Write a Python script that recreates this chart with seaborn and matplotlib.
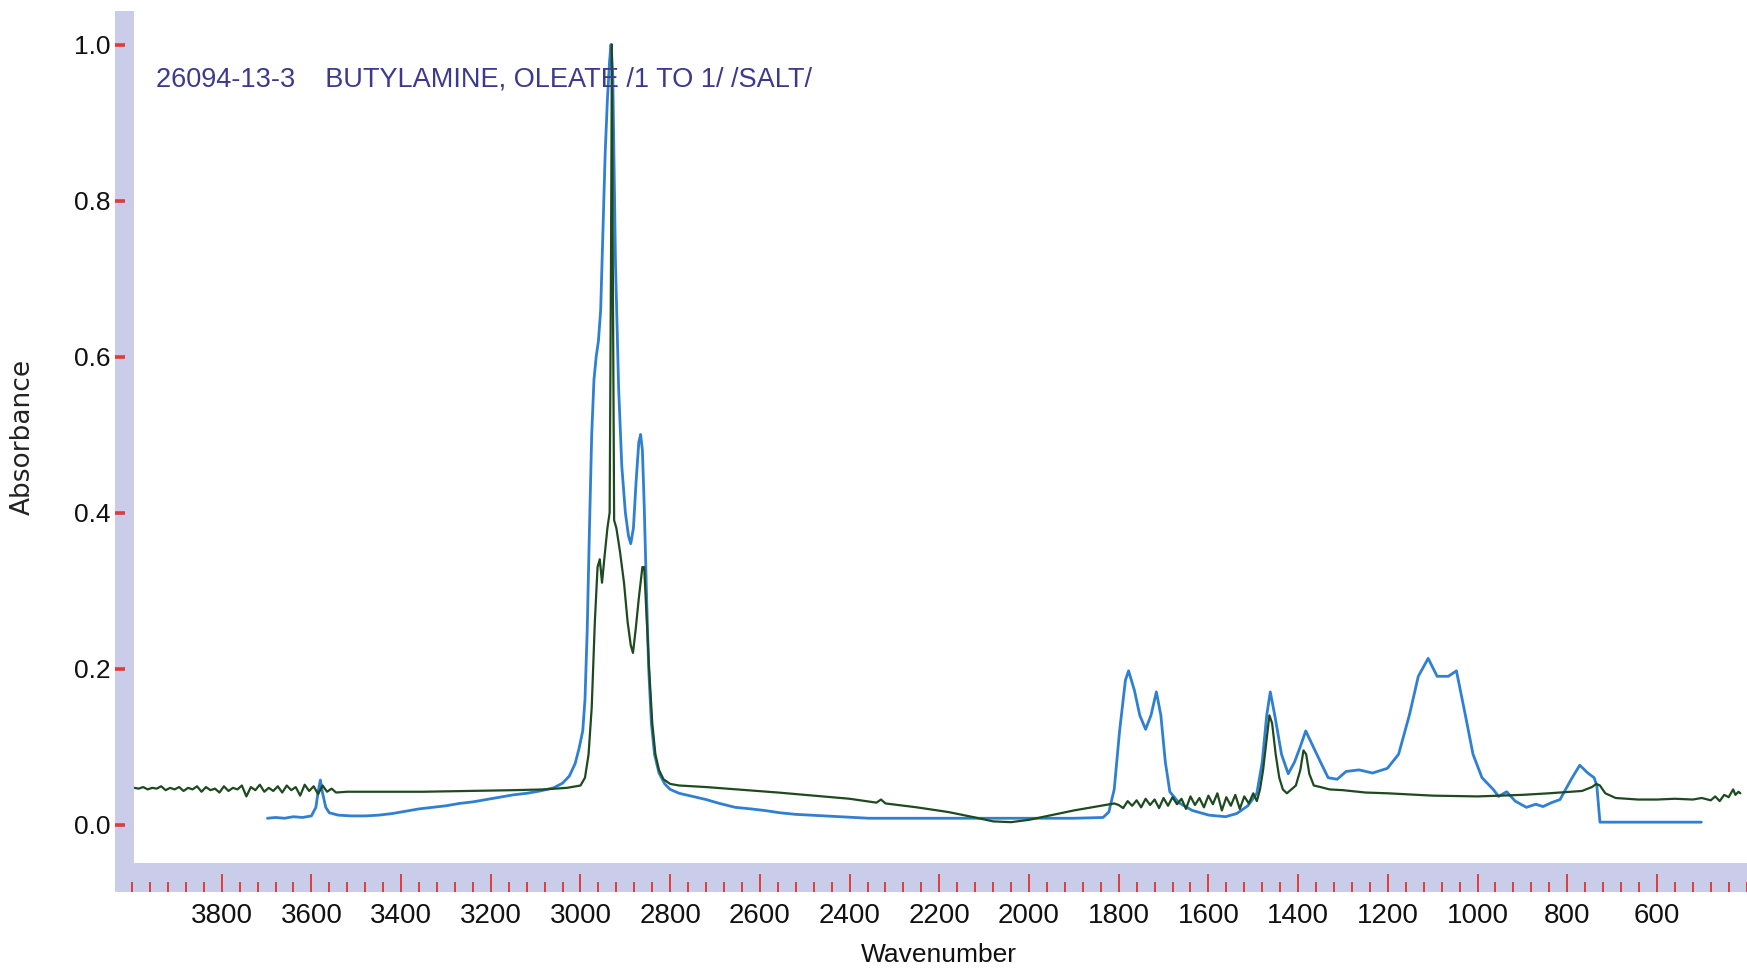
import matplotlib
matplotlib.use("Agg")
import matplotlib.pyplot as plt
from matplotlib.ticker import MultipleLocator
import pandas as pd
import seaborn as sns

# Spectrum 1 (blue) - wavenumber (cm-1) and absorbance
blue_wn = [
    3698, 3680, 3660, 3640, 3620, 3600, 3590, 3585, 3580, 3575,
    3568, 3560, 3540, 3510, 3480, 3450, 3420, 3390, 3360, 3330,
    3300, 3270, 3240, 3210, 3180, 3150, 3120, 3090, 3060, 3040,
    3025, 3012, 3003, 2995, 2990, 2985, 2980, 2975, 2970, 2965,
    2960, 2955, 2950, 2945, 2940, 2935, 2932, 2928, 2922, 2915,
    2908, 2900, 2893, 2888, 2882, 2876, 2870, 2866, 2862, 2858,
    2853, 2848, 2842, 2835, 2825, 2812, 2800, 2780, 2750, 2720,
    2690, 2655, 2620, 2590, 2555, 2520, 2490, 2456, 2420, 2390,
    2357, 2300, 2200, 2100, 2000, 1900, 1835, 1822, 1810, 1798,
    1785, 1778, 1765, 1753, 1740, 1728, 1716, 1706, 1696, 1686,
    1666, 1636, 1599, 1562, 1537, 1512, 1492, 1480, 1470, 1462,
    1452, 1437, 1422, 1408, 1395, 1383, 1368, 1350, 1333, 1313,
    1293, 1264, 1234, 1201, 1176, 1152, 1132, 1110, 1090, 1065,
    1047, 1027, 1010, 990, 965, 953, 935, 916, 891, 870,
    854, 835, 816, 791, 772, 754, 740, 734, 727, 600,
    501,
]
blue_abs = [
    0.008, 0.009, 0.008, 0.010, 0.009, 0.011, 0.022, 0.042, 0.057, 0.040,
    0.022, 0.015, 0.012, 0.011, 0.011, 0.012, 0.014, 0.017, 0.020, 0.022,
    0.024, 0.027, 0.029, 0.032, 0.035, 0.038, 0.040, 0.043, 0.047, 0.053,
    0.062, 0.078, 0.098, 0.12, 0.16, 0.25, 0.38, 0.50, 0.57, 0.60,
    0.62, 0.66, 0.76, 0.86, 0.93, 0.98, 1.0, 0.96, 0.72, 0.56,
    0.46, 0.40, 0.37, 0.36, 0.38, 0.44, 0.49, 0.50, 0.48, 0.41,
    0.30, 0.20, 0.13, 0.09, 0.066, 0.052, 0.045, 0.040, 0.036, 0.032,
    0.027, 0.022, 0.020, 0.018, 0.015, 0.013, 0.012, 0.011, 0.010, 0.009,
    0.008, 0.008, 0.008, 0.008, 0.008, 0.008, 0.009, 0.016, 0.045, 0.12,
    0.185, 0.197, 0.172, 0.14, 0.122, 0.14, 0.17, 0.14, 0.08, 0.042,
    0.028, 0.018, 0.012, 0.010, 0.014, 0.024, 0.04, 0.08, 0.14, 0.17,
    0.14, 0.09, 0.065, 0.08, 0.10, 0.12, 0.102, 0.08, 0.06, 0.058,
    0.068, 0.07, 0.066, 0.072, 0.09, 0.14, 0.19, 0.213, 0.19, 0.19,
    0.197, 0.14, 0.09, 0.06, 0.045, 0.036, 0.042, 0.03, 0.022, 0.026,
    0.023, 0.028, 0.032, 0.058, 0.076, 0.066, 0.06, 0.05, 0.003, 0.003,
    0.003,
]

# Spectrum 2 (dark green)
green_wn = [
    3995, 3985, 3975, 3965, 3955, 3945, 3935, 3925, 3915, 3905,
    3895, 3885, 3875, 3865, 3855, 3845, 3835, 3825, 3815, 3805,
    3795, 3785, 3775, 3765, 3755, 3745, 3735, 3725, 3715, 3705,
    3695, 3685, 3675, 3665, 3655, 3645, 3635, 3625, 3615, 3605,
    3595, 3585, 3575, 3565, 3555, 3545, 3520, 3450, 3350, 3250,
    3150, 3080, 3030, 3000, 2990, 2982, 2975, 2968, 2962, 2957,
    2952, 2947, 2940, 2935, 2932, 2930, 2928, 2925, 2920, 2912,
    2903, 2895, 2888, 2883, 2877, 2870, 2862, 2858, 2853, 2847,
    2840, 2833, 2825, 2815, 2800, 2780, 2720, 2650, 2560, 2480,
    2400, 2340, 2330, 2320, 2250, 2180, 2120, 2080, 2040, 2000,
    1950, 1900, 1850, 1810, 1800, 1790, 1780, 1770, 1760, 1750,
    1740, 1730, 1720, 1710, 1700, 1690, 1680, 1670, 1660, 1650,
    1640, 1630, 1620, 1610, 1600, 1590, 1580, 1570, 1560, 1550,
    1540, 1530, 1520, 1510, 1500, 1492, 1485, 1478, 1470, 1464,
    1458, 1450, 1442, 1434, 1425, 1415, 1405, 1395, 1388, 1382,
    1375, 1365, 1350, 1330, 1300, 1250, 1200, 1100, 1000, 900,
    841, 767, 745, 735, 727, 715, 692, 642, 600, 560,
    520, 500, 480, 470, 460, 450, 440, 430, 425, 418,
    414,
]
green_abs = [
    0.047, 0.046, 0.048, 0.045, 0.047, 0.046, 0.049, 0.044, 0.047, 0.045,
    0.048, 0.043, 0.047, 0.045, 0.049, 0.042, 0.048, 0.044, 0.046, 0.041,
    0.049, 0.043, 0.047, 0.045, 0.050, 0.036, 0.048, 0.044, 0.051, 0.042,
    0.047, 0.043, 0.049, 0.041, 0.050, 0.044, 0.048, 0.037, 0.051, 0.043,
    0.049, 0.039, 0.050, 0.042, 0.046, 0.041, 0.042, 0.042, 0.042, 0.043,
    0.044, 0.045, 0.047, 0.050, 0.060, 0.090, 0.15, 0.26, 0.33, 0.34,
    0.31, 0.34, 0.38, 0.40, 0.72, 1.0, 0.72, 0.39, 0.38, 0.35,
    0.31, 0.26, 0.23, 0.22, 0.25, 0.29, 0.33, 0.33, 0.27, 0.20,
    0.13, 0.09, 0.07, 0.058, 0.052, 0.050, 0.048, 0.045, 0.041, 0.037,
    0.033, 0.028, 0.032, 0.027, 0.022, 0.016, 0.009, 0.004, 0.003, 0.006,
    0.012, 0.018, 0.023, 0.027, 0.025, 0.021, 0.030, 0.024, 0.031, 0.022,
    0.033, 0.025, 0.032, 0.021, 0.034, 0.024, 0.035, 0.026, 0.033, 0.020,
    0.036, 0.025, 0.034, 0.022, 0.037, 0.026, 0.040, 0.018, 0.035, 0.024,
    0.038, 0.020, 0.036, 0.027, 0.040, 0.030, 0.045, 0.070, 0.11, 0.14,
    0.13, 0.09, 0.06, 0.045, 0.040, 0.045, 0.050, 0.070, 0.095, 0.09,
    0.065, 0.050, 0.048, 0.045, 0.044, 0.041, 0.040, 0.037, 0.036, 0.038,
    0.040, 0.043, 0.048, 0.052, 0.050, 0.040, 0.034, 0.032, 0.032, 0.033,
    0.032, 0.034, 0.031, 0.036, 0.030, 0.038, 0.035, 0.045, 0.038, 0.042,
    0.040,
]

title_text = "26094-13-3    BUTYLAMINE, OLEATE /1 TO 1/ /SALT/"
y_ticks = [0.0, 0.2, 0.4, 0.6, 0.8, 1.0]
x_ticks = list(range(3800, 599, -200))

blue_df = pd.DataFrame({"Wavenumber": blue_wn, "Absorbance": blue_abs})
green_df = pd.DataFrame({"Wavenumber": green_wn, "Absorbance": green_abs})

sns.set_style("white")
plt.rcParams["font.family"] = ["Liberation Sans Narrow", "Liberation Sans", "DejaVu Sans"]

W, H = 1747, 977
BAND = "#c9cdea"
RED = "#e23a3a"


def box(x0, y0, x1, y1):
    # pixel box (top-left origin) -> figure fraction rect
    return [x0 / W, 1 - y1 / H, (x1 - x0) / W, (y1 - y0) / H]


def wn_at(px):
    return 3800 - (px - 221.7) / 0.4485


def ab_at(py):
    return (824.5 - py) / 780


fig = plt.figure(figsize=(W / 100, H / 100), dpi=100)
fig.patch.set_facecolor("white")

# lavender frame on the left and bottom
left_band = fig.add_axes(box(115, 11, 134, 892))
left_band.set_facecolor(BAND)
left_band.set_ylim(ab_at(892), ab_at(11))
left_band.set_xticks([])
left_band.set_yticks(y_ticks)
left_band.set_yticklabels([f"{v:.1f}" for v in y_ticks])
left_band.tick_params(axis="y", left=True, direction="in", length=7.5, width=2.6, color=RED,
                      labelsize=19, pad=3, labelcolor="#111111")
for s in left_band.spines.values():
    s.set_visible(False)

bottom_band = fig.add_axes(box(115, 863, 1747, 892))
bottom_band.set_facecolor(BAND)
bottom_band.set_xlim(wn_at(115), wn_at(1747))
bottom_band.set_ylim(0, 1)
bottom_band.set_yticks([])
bottom_band.set_xticks(x_ticks)
bottom_band.xaxis.set_minor_locator(MultipleLocator(40))
bottom_band.tick_params(axis="x", which="major", bottom=True, direction="in", length=13,
                        width=1.4, color=RED, labelsize=20, pad=8, labelcolor="#111111")
bottom_band.tick_params(axis="x", which="minor", bottom=True, direction="in", length=7,
                        width=1.4, color=RED)
for s in bottom_band.spines.values():
    s.set_visible(False)

# plot area
ax = fig.add_axes(box(134, 11, 1747, 863))
sns.lineplot(data=blue_df, x="Wavenumber", y="Absorbance", ax=ax,
             color="#2f7fd2", linewidth=2.0, estimator=None)
sns.lineplot(data=green_df, x="Wavenumber", y="Absorbance", ax=ax,
             color="#1d4a1f", linewidth=1.6, estimator=None)
ax.set_xlim(wn_at(134), wn_at(1747))
ax.set_ylim(ab_at(863), ab_at(11))
ax.set_xticks([])
ax.set_yticks([])
ax.set_xlabel("")
ax.set_ylabel("")
for s in ax.spines.values():
    s.set_visible(False)

fig.text(156 / W, 1 - 80 / H, title_text, color="#3c3a8e", fontsize=19.5,
         ha="left", va="center")
fig.text(939 / W, 1 - 955 / H, "Wavenumber", color="#111111", fontsize=19,
         ha="center", va="center")
fig.text(23 / W, 1 - 437 / H, "Absorbance", color="#222222", fontsize=19,
         rotation=90, ha="center", va="center", family=["DejaVu Sans"])

fig.savefig("out.png", dpi=100, facecolor="white")
